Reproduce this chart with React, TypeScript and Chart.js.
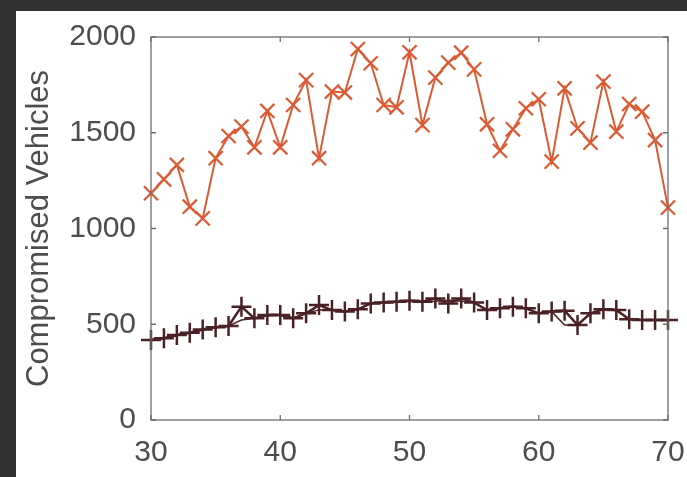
import React, { useEffect, useRef } from "react";
import { Chart, registerables } from "chart.js";

Chart.register(...registerables);

const xValues: number[] = [30,31,32,33,34,35,36,37,38,39,40,41,42,43,44,45,46,47,48,49,50,51,52,53,54,55,56,57,58,59,60,61,62,63,64,65,66,67,68,69,70];
const orangeSeries: number[] = [1184,1257,1332,1114,1053,1367,1483,1532,1424,1614,1424,1645,1775,1367,1715,1710,1937,1863,1645,1633,1920,1540,1788,1866,1918,1831,1544,1406,1518,1628,1675,1349,1732,1523,1448,1767,1506,1650,1610,1462,1109];
const darkSeriesA: number[] = [418,427,444,456,473,484,491,592,531,548,548,531,557,600,574,566,578,609,613,618,623,618,635,609,635,613,574,583,592,583,557,566,571,496,557,578,574,526,522,522,522];
const darkSeriesB: number[] = [418,430,440,456,470,484,491,522,531,545,548,531,557,575,574,566,578,609,613,618,623,618,620,625,620,613,574,583,592,583,557,566,496,496,557,578,574,526,522,522,522];
const yTicks: number[] = [0, 500, 1000, 1500, 2000];
const xTicks: number[] = [30, 40, 50, 60, 70];
const yTitle = "Compromised Vehicles";

const FONT = "'Liberation Sans', Arial, sans-serif";

const boxPlugin = {
  id: "boxTicks",
  afterDatasetsDraw(chart: any) {
    const { ctx, chartArea } = chart;
    const { left, right, top, bottom } = chartArea;
    const xs = chart.scales.x;
    const ys = chart.scales.y;
    ctx.save();
    ctx.strokeStyle = "#6e6e6e";
    ctx.lineWidth = 1.3;
    ctx.strokeRect(left, top, right - left, bottom - top);
    const len = 5;
    ctx.beginPath();
    xs.ticks.forEach((t: any) => {
      const px = xs.getPixelForValue(t.value);
      ctx.moveTo(px, bottom);
      ctx.lineTo(px, bottom - len);
      ctx.moveTo(px, top);
      ctx.lineTo(px, top + len);
    });
    ys.ticks.forEach((t: any) => {
      const py = ys.getPixelForValue(t.value);
      ctx.moveTo(left, py);
      ctx.lineTo(left + len, py);
      ctx.moveTo(right, py);
      ctx.lineTo(right - len, py);
    });
    ctx.stroke();
    ctx.restore();
  },
};

export default function App() {
  const ref = useRef<HTMLCanvasElement | null>(null);
  useEffect(() => {
    if (!ref.current) return;
    const chart = new Chart(ref.current, {
      type: "line",
      data: {
        labels: xValues,
        datasets: [
          {
            label: "B",
            data: xValues.map((x, i) => ({ x, y: darkSeriesB[i] })),
            borderColor: "#4a2226",
            borderWidth: 1.5,
            pointRadius: 0,
            tension: 0,
            clip: false as any,
          },
          {
            label: "A",
            data: xValues.map((x, i) => ({ x, y: darkSeriesA[i] })),
            borderColor: "#4a2226",
            borderWidth: 2.5,
            pointStyle: "cross",
            pointRadius: 10,
            pointBorderWidth: 2.5,
            pointBorderColor: "#4a2226",
            pointBackgroundColor: "#4a2226",
            tension: 0,
            clip: false as any,
          },
          {
            label: "Orange",
            data: xValues.map((x, i) => ({ x, y: orangeSeries[i] })),
            borderColor: "#dc5a32",
            borderWidth: 2,
            pointStyle: "crossRot",
            pointRadius: 10,
            pointBorderWidth: 2.2,
            pointBorderColor: "#dc5a32",
            pointBackgroundColor: "#dc5a32",
            tension: 0,
            clip: false as any,
          },
        ],
      },
      options: {
        animation: false,
        responsive: false,
        maintainAspectRatio: false,
        layout: { padding: { left: 0, top: 26, right: 19, bottom: 0 } },
        plugins: { legend: { display: false }, tooltip: { enabled: false } },
        scales: {
          x: {
            type: "linear",
            min: 30,
            max: 70,
            afterBuildTicks: (s: any) => {
              s.ticks = xTicks.map((v) => ({ value: v }));
            },
            afterFit: (s: any) => {
              s.height = 57;
              s.paddingLeft = 0;
              s.paddingRight = 0;
            },
            grid: { display: false, drawTicks: false },
            border: { display: false },
            ticks: {
              color: "#4d4d4d",
              font: { family: FONT, size: 30 },
              padding: 15,
              maxRotation: 0,
              autoSkip: false,
              callback: (v: any) => String(v),
            },
          },
          y: {
            type: "linear",
            min: 0,
            max: 2000,
            afterBuildTicks: (s: any) => {
              s.ticks = yTicks.map((v) => ({ value: v }));
            },
            afterFit: (s: any) => {
              s.width = 135;
              s.paddingTop = 0;
              s.paddingBottom = 0;
            },
            grid: { display: false, drawTicks: false },
            border: { display: false },
            ticks: {
              color: "#4d4d4d",
              font: { family: FONT, size: 30 },
              padding: 15,
              autoSkip: false,
              callback: (v: any) => String(v),
            },
            title: {
              display: true,
              text: yTitle,
              color: "#4d4d4d",
              font: { family: FONT, size: 31 },
              padding: { top: 5, bottom: 0 },
            },
          },
        },
      },
      plugins: [boxPlugin],
    });
    return () => chart.destroy();
  }, []);

  return (
    <div style={{ position: "fixed", left: 0, top: 0, width: 687, height: 477, background: "#323232", overflow: "hidden" }}>
      <div style={{ position: "absolute", left: 16, top: 11, width: 671, height: 466, background: "#ffffff" }}>
        <canvas ref={ref} width={671} height={466} style={{ display: "block", width: 671, height: 466 }} />
      </div>
    </div>
  );
}
